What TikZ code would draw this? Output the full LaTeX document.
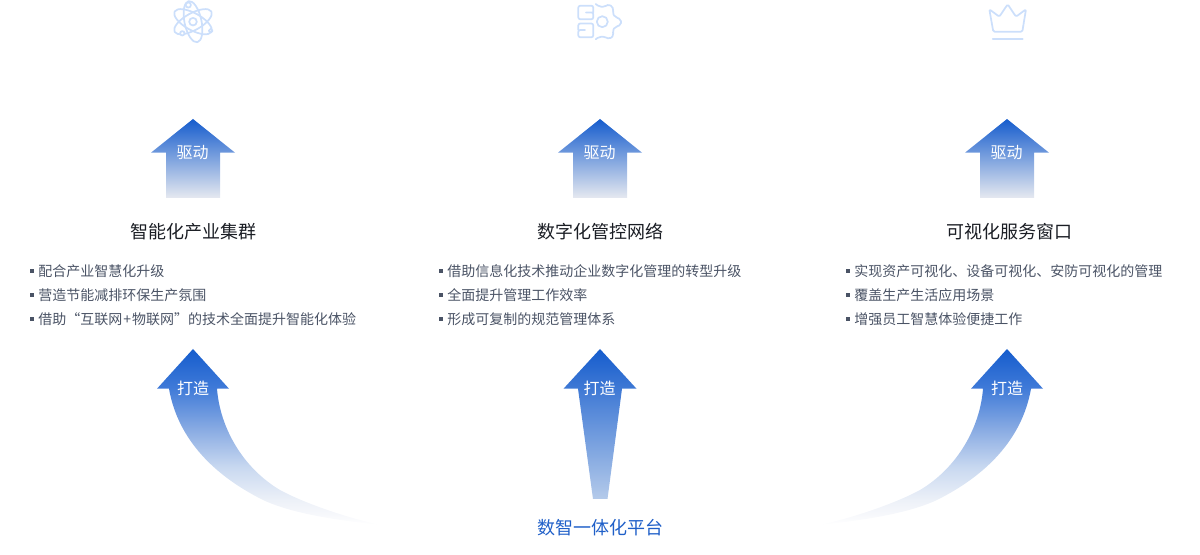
\documentclass[tikz,border=0pt]{standalone}
\usepackage{fontspec}
\setmainfont{Noto Sans CJK SC}
\definecolor{arrowtop}{HTML}{155CCD}
\definecolor{drivebottom}{HTML}{E6E9F0}
\definecolor{stembottom}{HTML}{B4CAEA}
\definecolor{iconblue}{HTML}{CCDFFB}
\definecolor{listgray}{HTML}{4A5365}
\definecolor{titleblack}{HTML}{1A1D24}
\definecolor{platform}{HTML}{1F5FC8}
\definecolor{fadeA}{HTML}{3F7AD8}
\definecolor{fadeB}{HTML}{8AACE3}
\definecolor{fadeC}{HTML}{C8D8F0}
\definecolor{fadeD}{HTML}{EDF1F8}
\definecolor{fadeE}{HTML}{F8F9FC}
\pgfdeclareverticalshading{curvefade}{100bp}{color(0bp)=(white); color(25bp)=(white); color(27.5bp)=(fadeE); color(32bp)=(fadeD); color(41.5bp)=(fadeC); color(52bp)=(fadeB); color(64bp)=(fadeA); color(75bp)=(arrowtop); color(100bp)=(arrowtop)}
\tikzset{
  x=0.75pt,y=-0.75pt,
  icon/.style={draw=iconblue,line width=1.3pt,line join=round,line cap=round,fill=none},
  drivearrow/.style={top color=arrowtop,bottom color=drivebottom,draw=none},
  stemarrow/.style={top color=arrowtop,bottom color=stembottom,draw=none},
  curvearrow/.style={shading=curvefade,draw=none},
  arrowlabel/.style={text=white,font=\fontsize{12}{12}\selectfont,inner sep=0pt,anchor=center},
  coltitle/.style={text=titleblack,font=\fontsize{13.5}{14}\selectfont,inner sep=0pt,anchor=center},
  listitem/.style={text=listgray,font=\fontsize{10.5}{11}\selectfont,inner sep=0pt,anchor=base west},
  bulletmark/.style={fill=listgray,draw=none},
}
\begin{document}
\begin{tikzpicture}
\useasboundingbox (0,0) rectangle (1200,555);

% icons
\begin{scope}[icon]
  \draw (193,21.7) circle (3.8);
  \foreach \a in {-29,29,-78}{
    \draw[rotate around={\a:(193,21.7)}] (193,21.7) ellipse [x radius=21,y radius=8.5];
  }
  \draw[fill=white] (188.3,5) circle (2.6);
  \draw[fill=white] (182.3,33.3) circle (2.2);
  \draw[fill=white] (210.7,30.7) circle (1.9);

  \draw[rounded corners=1.5] (593.3,12.4) -- (593.3,5.7) -- (578.3,5.7) -- (578.3,19.3) -- (593.3,19.3) -- (593.3,12.4) -- (586,12.4);
  \draw[rounded corners=1.5] (578.3,30) -- (578.3,23.5) -- (593.3,23.5) -- (593.3,37.3) -- (578.3,37.3) -- (578.3,30) -- (585,30);
  \draw (602.3,21.7) circle (5.5);
  \draw[rounded corners=1.5] (595.7,4) -- (599.3,6.7) -- (605,6.7) -- (609.3,4) -- (614,9.3) -- (612.3,13.3) -- (615.7,17.3) -- (621,19.3) -- (621,25) -- (615.7,26.7) -- (612.3,30.7) -- (614,35) -- (609.3,39.3) -- (605,36.7) -- (599.3,36.7) -- (595.7,39.3);

  \draw[rounded corners=1] (989.3,9.3) -- (999.3,16.7) -- (1007.7,4.3) -- (1016,16.7) -- (1026,9.3) -- (1022.3,31.7) -- (993.3,31.7) -- cycle;
  \draw (992.7,39) -- (1022.7,39);
\end{scope}

% drive arrows
\foreach \cx/\nm in {193/a,600/b,1007/c}{
  \shade[drivearrow] (\cx,119) -- (\cx+42,152.7) -- (\cx+27,152.7) -- (\cx+27,198) -- (\cx-27,198) -- (\cx-27,152.7) -- (\cx-42,152.7) -- cycle;
  \node[arrowlabel] (drive\nm) at (\cx-0.5,152.5) {驱动};
}

% column titles
\node[coltitle] (titlea) at (193.5,232) {智能化产业集群};
\node[coltitle] (titleb) at (600.7,232) {数字化管控网络};
\node[coltitle] (titlec) at (1009,232) {可视化服务窗口};

% lists
\foreach \bx/\tx/\yy/\txt/\nm in {
  30/38/277/配合产业智慧化升级/a1,
  30/38/301/营造节能减排环保生产氛围/a2,
  30/38/325/{借助“互联网\kern0.8pt+\kern0.8pt物联网”的技术全面提升智能化体验}/a3,
  439/447/277/借助信息化技术推动企业数字化管理的转型升级/b1,
  439/447/301/全面提升管理工作效率/b2,
  439/447/325/形成可复制的规范管理体系/b3,
  846/854/277/实现资产可视化、设备可视化、安防可视化的管理/c1,
  846/854/301/覆盖生产生活应用场景/c2,
  846/854/325/增强员工智慧体验便捷工作/c3}{
  \fill[bulletmark] (\bx,\yy-7.5) rectangle (\bx+3.6,\yy-4);
  \node[listitem] (item\nm) at (\tx,\yy) {\txt};
}

% left curved arrow
\shade[curvearrow] (193,349) -- (229,388.7) -- (217,388.7)
  .. controls (220,428) and (243,468) .. (280,490)
  .. controls (300,501) and (340,516) .. (380,525)
  .. controls (345,521) and (295,515) .. (263,500)
  .. controls (215,476) and (178,440) .. (169,388.7)
  -- (157,388.7) -- cycle;
\node[arrowlabel] (makea) at (193,388.5) {打造};

% centre arrow
\shade[stemarrow] (600,349) -- (636.5,388.7) -- (622,388.7) -- (607.5,499) -- (593,499) -- (578,388.7) -- (563.5,388.7) -- cycle;
\node[arrowlabel] (makeb) at (599.5,388.5) {打造};

% right curved arrow
\shade[curvearrow] (1007,349) -- (971,388.7) -- (983,388.7)
  .. controls (980,428) and (957,468) .. (920,490)
  .. controls (900,501) and (860,516) .. (820,525)
  .. controls (855,521) and (905,515) .. (937,500)
  .. controls (985,476) and (1022,440) .. (1031,388.7)
  -- (1043,388.7) -- cycle;
\node[arrowlabel] (makec) at (1007,388.5) {打造};

\node[text=platform,font=\fontsize{13.5}{14}\selectfont,inner sep=0pt,anchor=center] (platform) at (600,527.5) {数智一体化平台};
\end{tikzpicture}
\end{document}
